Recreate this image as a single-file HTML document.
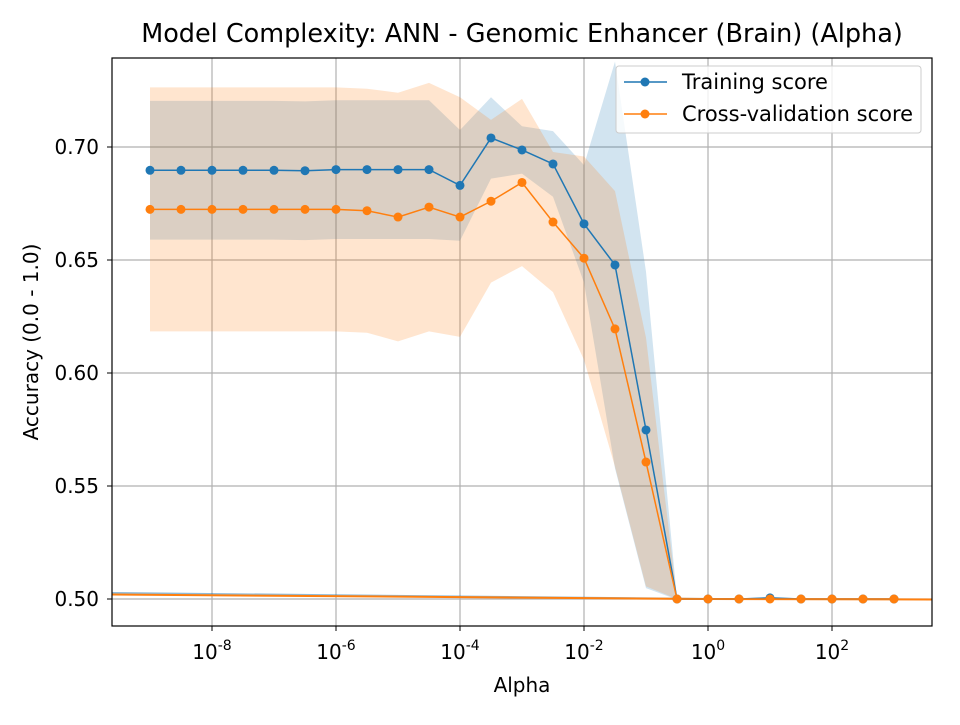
<!DOCTYPE html>
<html><head><meta charset="utf-8"><style>
body{margin:0;background:#fff;}
svg text{font-family:"DejaVu Sans","Liberation Sans",sans-serif;fill:#000;}
</style></head><body>
<svg width="960" height="720" id="chart">
<text x="522" y="42" font-size="25.5" text-anchor="middle">Model Complexity: ANN - Genomic Enhancer (Brain) (Alpha)</text>
<g id="grid"></g>
<g id="bands"></g>
<g id="series"></g>
<rect x="112" y="58" width="820" height="568" fill="none" stroke="#000" stroke-width="1.2"/>
<g id="axes"></g>
<text x="522" y="692" font-size="20" text-anchor="middle">Alpha</text>
<text transform="translate(38,342) rotate(-90)" font-size="20" text-anchor="middle">Accuracy (0.0 - 1.0)</text>
<g>
<rect x="616" y="66" width="305" height="67" rx="3" fill="#fff" fill-opacity="0.8" stroke="#ccc"/>
<g><line x1="624" y1="82" x2="667" y2="82" stroke="#1f77b4" stroke-width="1.5"/><circle cx="645" cy="82" r="4.5" fill="#1f77b4"/><text x="682" y="89" font-size="21">Training score</text></g>
<g><line x1="624" y1="114" x2="667" y2="114" stroke="#ff7f0e" stroke-width="1.5"/><circle cx="645" cy="114" r="4.5" fill="#ff7f0e"/><text x="682" y="121" font-size="21">Cross-validation score</text></g>
</g>
</svg>
<script>
const exponents=[-9,-8.5,-8,-7.5,-7,-6.5,-6,-5.5,-5,-4.5,-4,-3.5,-3,-2.5,-2,-1.5,-1,-0.5,0,0.5,1,1.5,2,2.5,3];
const trainMean=[0.6897,0.6897,0.6897,0.6897,0.6897,0.6895,0.690,0.690,0.690,0.690,0.683,0.704,0.6987,0.6925,0.666,0.6478,0.5748,0.5,0.5,0.5,0.5005,0.5,0.5,0.5,0.5];
const trainStd=[0.0307,0.0307,0.0307,0.0307,0.0307,0.0307,0.0307,0.0307,0.0307,0.0307,0.0245,0.018,0.0105,0.0145,0.026,0.09,0.07,0.0003,0.0003,0.0003,0.0003,0.0003,0.0003,0.0003,0.0003];
const cvMean=[0.6724,0.6724,0.6724,0.6724,0.6724,0.6724,0.6724,0.6718,0.669,0.6734,0.669,0.676,0.6843,0.6668,0.6508,0.6195,0.5606,0.5,0.5,0.5,0.5,0.5,0.5,0.5,0.5];
const cvStd=[0.054,0.054,0.054,0.054,0.054,0.054,0.054,0.054,0.055,0.055,0.053,0.036,0.037,0.031,0.045,0.061,0.055,0,0,0,0,0,0,0,0];
const yTicks=[0.50,0.55,0.60,0.65,0.70];
const xTicks=[-8,-6,-4,-2,0,2];
const X=e=>708+62*e, Y=v=>599-(v-0.5)/0.2*452;
const NS='http://www.w3.org/2000/svg';
function mk(p,t,a){const el=document.createElementNS(NS,t);for(const k in a)el.setAttribute(k,a[k]);p.appendChild(el);return el;}
const grid=document.getElementById('grid'),axes=document.getElementById('axes'),bands=document.getElementById('bands'),series=document.getElementById('series');
yTicks.forEach(v=>{const y=Y(v);
 const g=mk(grid,'line',{x1:112,x2:932,y1:y,y2:y,stroke:'#b0b0b0','stroke-width':1.2});
 
 
 mk(axes,'line',{x1:107,x2:112,y1:y,y2:y,stroke:'#000'});
 const t=mk(axes,'text',{x:99,y:y+7,'font-size':20,'text-anchor':'end'});t.textContent=v.toFixed(2);
 
 });
xTicks.forEach(e=>{const x=X(e);
 const g=mk(grid,'line',{x1:x,x2:x,y1:58,y2:626,stroke:'#b0b0b0','stroke-width':1.2});
 
 
 mk(axes,'line',{x1:x,x2:x,y1:626,y2:631,stroke:'#000'});
 const t=mk(axes,'text',{x:x,y:659,'font-size':20,'text-anchor':'middle'});
 
 
 t.innerHTML='10<tspan dy="-9" font-size="14">'+e+'</tspan>';});
function band(m,s,c,name){const up=exponents.map((e,i)=>X(e)+','+Y(m[i]+s[i]));const lo=exponents.map((e,i)=>X(e)+','+Y(m[i]-s[i])).reverse();
 const p=mk(bands,'polygon',{points:up.concat(lo).join(' '),fill:c,'fill-opacity':0.2});
 
 }
band(trainMean,trainStd,'#1f77b4','training-band');band(cvMean,cvStd,'#ff7f0e','cv-band');
const l1=mk(bands,'line',{x1:112,y1:593,x2:708,y2:599,stroke:'#1f77b4','stroke-opacity':0.5,'stroke-width':2});


const l2=mk(bands,'polyline',{points:'112,594.5 708,599 932,599.5',fill:'none',stroke:'#ff7f0e','stroke-width':2});


function line(m,c,name){const pl=mk(series,'polyline',{points:exponents.map((e,i)=>X(e)+','+Y(m[i])).join(' '),fill:'none',stroke:c,'stroke-width':1.5});
 
 
 exponents.forEach((e,i)=>{const d=mk(series,'circle',{cx:X(e),cy:Y(m[i]),r:4.5,fill:c});
 
 });}
line(trainMean,'#1f77b4','training');line(cvMean,'#ff7f0e','cv');
</script>
</body></html>
